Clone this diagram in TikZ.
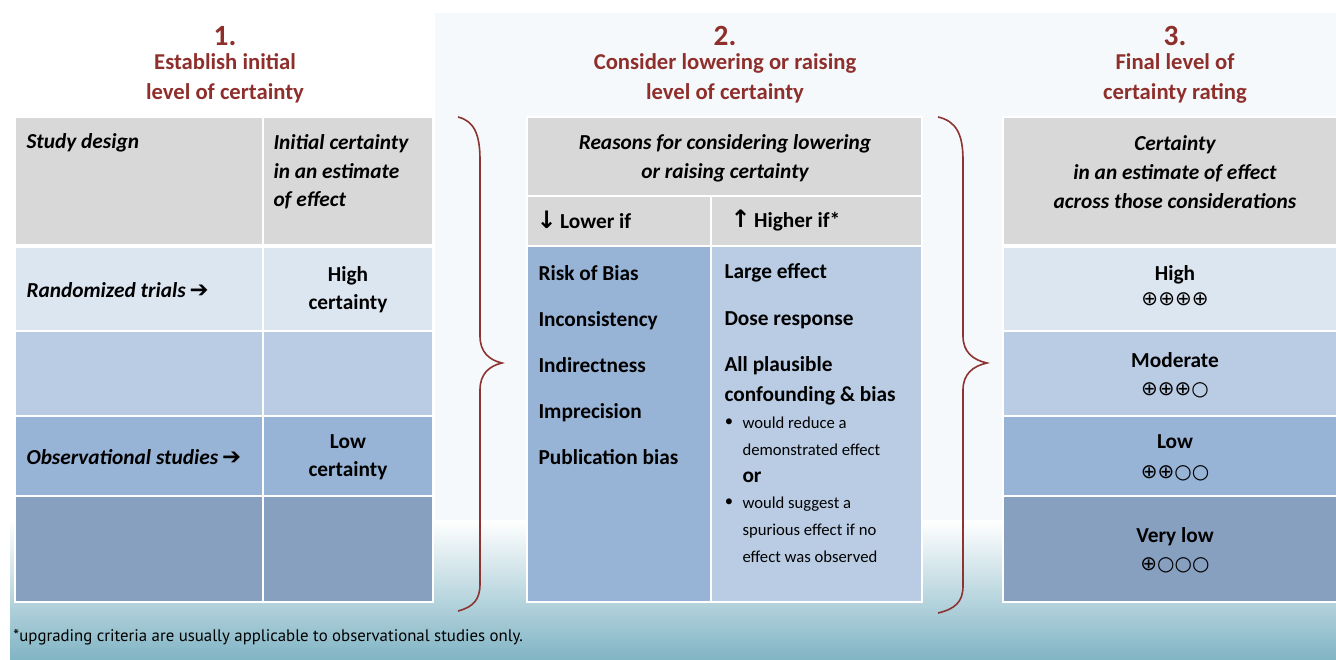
\documentclass[tikz,border=0pt]{standalone}
\usepackage{fontspec}
\setmainfont{Carlito}
\newfontfamily\symfont{DejaVu Sans}
\newfontfamily\notefont{PT Sans}

\definecolor{titlered}{HTML}{8E2F2C}
\definecolor{bracered}{HTML}{8B3431}
\definecolor{hdgray}{HTML}{D8D8D8}
\definecolor{rowa}{HTML}{DCE6F1}
\definecolor{rowb}{HTML}{B9CCE4}
\definecolor{rowc}{HTML}{97B3D6}
\definecolor{rowd}{HTML}{88A0C0}
\definecolor{slidetint}{HTML}{F6F9FB}
\definecolor{slideteal}{HTML}{80B4C4}

\tikzset{every picture/.style={line width=0.75pt}}
\tikzset{
  cell/.style={draw=white, line width=1.5pt},
  numtxt/.style={font=\bfseries\fontsize{22}{26}\selectfont, text=titlered, inner sep=0pt},
  ttltxt/.style={font=\bfseries\fontsize{17}{22.5}\selectfont, text=titlered, align=center, inner sep=0pt},
  hdtxt/.style={font=\bfseries\itshape\fontsize{16}{21.5}\selectfont, inner sep=0.75pt},
  bdtxt/.style={font=\bfseries\fontsize{16}{21}\selectfont, inner sep=0.75pt},
  smtxt/.style={font=\fontsize{12.5}{20.25}\selectfont, inner sep=0.75pt, align=left},
  rating/.style={font=\symfont\fontsize{15}{16}\selectfont, inner sep=0.75pt},
  bracecurve/.style={draw=bracered, line width=1.2pt},
}
\newcommand{\rarrow}{{\symfont\bfseries\fontsize{17}{17}\selectfont\,➔}}

\begin{document}
\begin{tikzpicture}[x=0.75pt,y=0.75pt,yscale=-1,xscale=1]
  \useasboundingbox (0,0) rectangle (1336,660);

  %Shape: Rectangle (slide)
  \fill[slidetint] (435,13) rectangle (1336,560);
  \shade[top color=white, bottom color=slideteal] (10,520) rectangle (1336,660);

  %Shape: Rectangle (table 1)
  \path[cell, fill=hdgray] (15,117) rectangle (263,245);
  \path[cell, fill=hdgray] (263,117) rectangle (433,245);
  \path[cell, fill=rowa] (15,247) rectangle (263,331);
  \path[cell, fill=rowa] (263,247) rectangle (433,331);
  \path[cell, fill=rowb] (15,331) rectangle (263,416);
  \path[cell, fill=rowb] (263,331) rectangle (433,416);
  \path[cell, fill=rowc] (15,416) rectangle (263,496);
  \path[cell, fill=rowc] (263,416) rectangle (433,496);
  \path[cell, fill=rowd] (15,496) rectangle (263,602);
  \path[cell, fill=rowd] (263,496) rectangle (433,602);

  %Shape: Rectangle (table 2)
  \path[cell, fill=hdgray] (527,117) rectangle (922,196);
  \path[cell, fill=hdgray] (527,196) rectangle (711,246);
  \path[cell, fill=hdgray] (711,196) rectangle (922,246);
  \path[cell, fill=rowc] (527,246) rectangle (711,602);
  \path[cell, fill=rowb] (711,246) rectangle (922,602);

  %Shape: Rectangle (table 3)
  \path[cell, fill=hdgray] (1003,117) rectangle (1338,245);
  \path[cell, fill=rowa] (1003,247) rectangle (1338,331);
  \path[cell, fill=rowb] (1003,331) rectangle (1338,416);
  \path[cell, fill=rowc] (1003,416) rectangle (1338,496);
  \path[cell, fill=rowd] (1003,496) rectangle (1338,602);

  %Shape: Brace
  \draw[bracecurve] (458,117) .. controls (474,121) and (480,134) .. (480,160) -- (480,336) .. controls (480,352) and (489,360) .. (502,363) .. controls (489,366) and (480,374) .. (480,390) -- (480,584) .. controls (480,600) and (473,607) .. (458,611);
  %Shape: Brace
  \draw[bracecurve] (938,117) .. controls (956,121) and (963,134) .. (963,160) -- (963,336) .. controls (963,352) and (973,360) .. (987,363) .. controls (973,366) and (963,374) .. (963,390) -- (963,586) .. controls (963,602) and (955,609) .. (938,613);

  % Text Node
  \node[numtxt] (numa) at (225,36) {1.};
  \node[ttltxt] (ttla) at (225,78) {Establish initial\\level of certainty};
  \node[numtxt] (numb) at (725,36) {2.};
  \node[ttltxt] (ttlb) at (725,78) {Consider lowering or raising\\level of certainty};
  \node[numtxt] (numc) at (1175,36) {3.};
  \node[ttltxt] (ttlc) at (1175,78) {Final level of\\certainty rating};

  % Text Node (table 1)
  \node[hdtxt, anchor=west] (design) at (25,143) {Study design};
  \node[hdtxt, anchor=west, align=left, font=\bfseries\itshape\fontsize{16}{21.4}\selectfont] (initial) at (272,172) {Initial certainty\\in an estimate\\of effect};
  \node[hdtxt, anchor=west] (rct) at (25,290) {Randomized trials\rarrow};
  \node[bdtxt, align=center] (high) at (348,290) {High\\certainty};
  \node[hdtxt, anchor=west] (obs) at (25,457) {Observational studies\rarrow};
  \node[bdtxt, align=center] (low) at (348,457) {Low\\certainty};

  % Text Node (table 2)
  \node[hdtxt, align=center] (reasons) at (725,158) {Reasons for considering lowering\\or raising certainty};
  \node[bdtxt, anchor=west] (lower) at (535,220) {{\symfont\bfseries\fontsize{18}{18}\selectfont ↓}\,Lower if};
  \node[bdtxt, anchor=west] (higher) at (729,221) {{\symfont\bfseries\fontsize{18}{18}\selectfont ↑}\,Higher if*};
  \node[bdtxt, anchor=west, align=left, font=\bfseries\fontsize{16}{34.5}\selectfont] (downlist) at (537,365) {Risk of Bias\\Inconsistency\\Indirectness\\Imprecision\\Publication bias};
  \node[bdtxt, anchor=west] (large) at (723,273) {Large effect};
  \node[bdtxt, anchor=west] (dose) at (723,320) {Dose response};
  \node[bdtxt, anchor=west, align=left, font=\bfseries\fontsize{16}{22.5}\selectfont] (plausible) at (723,381) {All plausible\\confounding \& bias};
  \node[smtxt] (bula) at (729,423) {•};
  \node[smtxt, anchor=west] (reduce) at (741,436.5) {would reduce a\\demonstrated effect};
  \node[bdtxt, anchor=west] (ortxt) at (741,477) {or};
  \node[smtxt] (bulb) at (729,503) {•};
  \node[smtxt, anchor=west] (suggest) at (741,530) {would suggest a\\spurious effect if no\\effect was observed};

  % Text Node (table 3)
  \node[hdtxt, align=center, font=\bfseries\itshape\fontsize{16}{21.75}\selectfont] (final) at (1175,172) {Certainty\\in an estimate of effect\\across those considerations};
  \node[bdtxt] (lvla) at (1175,275) {High};
  \node[rating] (syma) at (1175,299) {⊕⊕⊕⊕};
  \node[bdtxt] (lvlb) at (1175,360) {Moderate};
  \node[rating] (symb) at (1175,390) {⊕⊕⊕○};
  \node[bdtxt] (lvlc) at (1175,442) {Low};
  \node[rating] (symc) at (1175,473) {⊕⊕○○};
  \node[bdtxt] (lvld) at (1175,537) {Very low};
  \node[rating] (symd) at (1175,565) {⊕○○○};

  % Text Node (footnote)
  \node[anchor=west, inner sep=0.75pt, font=\notefont\fontsize{12.6}{15}\selectfont] (note) at (12,637) {*upgrading criteria are usually applicable to observational studies only.};

\end{tikzpicture}
\end{document}
